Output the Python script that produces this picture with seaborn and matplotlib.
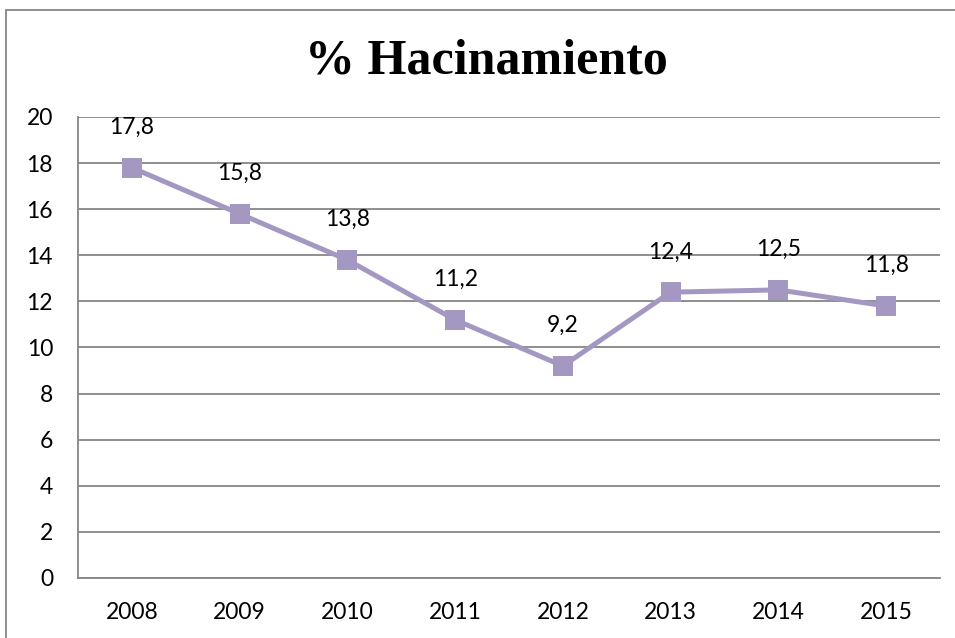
import matplotlib
matplotlib.use("Agg")
import matplotlib.pyplot as plt
import seaborn as sns
import pandas as pd
import numpy as np
from matplotlib.patches import Rectangle

years = ["2008", "2009", "2010", "2011", "2012", "2013", "2014", "2015"]
values = [17.8, 15.8, 13.8, 11.2, 9.2, 12.4, 12.5, 11.8]
labels = ["17,8", "15,8", "13,8", "11,2", "9,2", "12,4", "12,5", "11,8"]
title = "% Hacinamiento"

sns.set_style("white")
plt.rcParams['font.family'] = ['Lato', 'DejaVu Sans']
plt.rcParams['text.color'] = 'black'
plt.rcParams['xtick.labelcolor'] = 'black'
plt.rcParams['ytick.labelcolor'] = 'black'

df = pd.DataFrame({"year": years, "value": values})
df["pos"] = np.arange(len(years))

fig = plt.figure(figsize=(9.55, 6.38), dpi=100)
ax = fig.add_axes([78/955, 1-578/638, (940-78)/955, (578-117)/638])

color = "#A497C1"
sns.lineplot(data=df, x="pos", y="value", ax=ax, color=color, linewidth=3.6,
             marker="s", markersize=14, markeredgewidth=0, markerfacecolor=color)

for x, v, t in zip(df["pos"], values, labels):
    ax.annotate(t, (x, v), xytext=(0, 29), textcoords="offset points",
                ha="center", va="center", fontsize=16.5, color="black")

ax.set_xlim(-0.5, len(years) - 0.5)
ax.set_ylim(0, 20)
ax.set_yticks(range(0, 21, 2))
ax.set_xticks(df["pos"])
ax.set_xticklabels(years)
ax.set_xticks(np.arange(-0.5, len(years), 1.0), minor=True)
ax.tick_params(axis="x", which="major", length=0, pad=17, labelsize=16.5, labelcolor="black")
ax.tick_params(axis="x", which="minor", length=6, width=1.3, color="#868686", direction="out")
ax.tick_params(axis="y", which="major", length=6, width=1.3, color="#868686", direction="out",
               pad=12, labelsize=16.5, labelcolor="black")
ax.set_xlabel("")
ax.set_ylabel("")
ax.yaxis.grid(True, color="#868686", linewidth=1.3)
ax.xaxis.grid(False)
for s in ["top", "right"]:
    ax.spines[s].set_visible(False)
for s in ["left", "bottom"]:
    ax.spines[s].set_color("#868686")
    ax.spines[s].set_linewidth(1.3)

fig.text(486/955, 1-62/638, title, ha="center", va="center", color="black",
         fontsize=36, fontweight="bold", family=["Liberation Serif", "DejaVu Serif"])

fig.patches.append(Rectangle((6/955, -0.1), 1.2, 1-10/638+0.1, transform=fig.transFigure,
                             fill=False, edgecolor="#868686", linewidth=1.3))

fig.savefig("out.png", dpi=100)
